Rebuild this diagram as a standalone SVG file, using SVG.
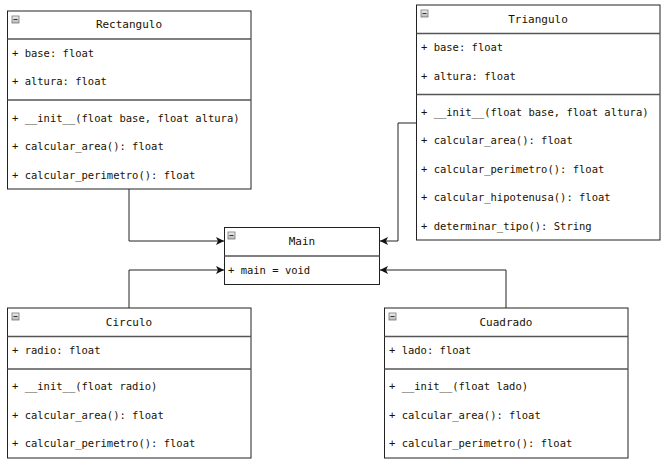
<svg xmlns="http://www.w3.org/2000/svg" width="671" height="460" viewBox="0 0 671 460">
  <style>
    .box { fill: #ffffff; stroke: #222222; stroke-width: 1; }
    .div { stroke: #555555; stroke-width: 1.5; }
    .t { font-family: "DejaVu Sans Mono", "Liberation Mono", monospace; font-size: 10.5px; fill: #1a1100; dominant-baseline: central; }
    .title { text-anchor: middle; font-size: 11px; }
    .icon { fill: url(#ig); stroke: #777777; stroke-width: 0.8; }
    .iconbar { stroke: #333333; stroke-width: 1; }
    .edge { fill: none; stroke: #222222; stroke-width: 1; }
  </style>
  <defs>
    <linearGradient id="ig" x1="0" y1="0" x2="0" y2="1">
      <stop offset="0" stop-color="#f2f2f2"/>
      <stop offset="1" stop-color="#b8b8b8"/>
    </linearGradient>
    <marker id="arr" viewBox="0 0 10 10" refX="10" refY="5" markerWidth="8" markerHeight="8" markerUnits="userSpaceOnUse" orient="auto">
      <path d="M0,0 L10,5 L0,10 L2.5,5 Z" fill="#111111"/>
    </marker>
    <g id="collapse">
      <rect class="icon" x="0" y="0" width="7" height="7"/>
      <line class="iconbar" x1="1.5" y1="3.5" x2="5.5" y2="3.5"/>
    </g>
  </defs>

  <g id="connectors">
    <polyline class="edge" points="129,189 129,241 224,241" marker-end="url(#arr)"/>
    <polyline class="edge" points="129,308 129,270 224,270" marker-end="url(#arr)"/>
    <polyline class="edge" points="416,123 398,123 398,241 380,241" marker-end="url(#arr)"/>
    <polyline class="edge" points="506,308 506,270 380,270" marker-end="url(#arr)"/>
  </g>

  <g id="rectangulo">
    <rect class="box" x="7.5" y="11" width="243.5" height="178"/>
    <line class="div" x1="7.5" y1="39" x2="251" y2="39"/>
    <line class="div" x1="7.5" y1="100" x2="251" y2="100"/>
    <use href="#collapse" x="12" y="16"/>
    <text class="t title" x="129" y="24">Rectangulo</text>
    <text class="t" x="12" y="53">+ base: float</text>
    <text class="t" x="12" y="81">+ altura: float</text>
    <text class="t" x="12" y="118">+ __init__(float base, float altura)</text>
    <text class="t" x="12" y="146">+ calcular_area(): float</text>
    <text class="t" x="12" y="175">+ calcular_perimetro(): float</text>
  </g>

  <g id="triangulo">
    <rect class="box" x="416.5" y="5" width="243.5" height="235"/>
    <line class="div" x1="416.5" y1="33.5" x2="660" y2="33.5"/>
    <line class="div" x1="416.5" y1="94.5" x2="660" y2="94.5"/>
    <use href="#collapse" x="421" y="10"/>
    <text class="t title" x="538" y="19">Triangulo</text>
    <text class="t" x="421" y="47">+ base: float</text>
    <text class="t" x="421" y="76">+ altura: float</text>
    <text class="t" x="421" y="112">+ __init__(float base, float altura)</text>
    <text class="t" x="421" y="140">+ calcular_area(): float</text>
    <text class="t" x="421" y="169">+ calcular_perimetro(): float</text>
    <text class="t" x="421" y="197">+ calcular_hipotenusa(): float</text>
    <text class="t" x="421" y="226">+ determinar_tipo(): String</text>
  </g>

  <g id="main">
    <rect class="box" x="224.5" y="227.5" width="155" height="57"/>
    <line class="div" x1="224.5" y1="256" x2="379.5" y2="256"/>
    <use href="#collapse" x="228" y="232"/>
    <text class="t title" x="302" y="241">Main</text>
    <text class="t" x="228" y="270">+ main = void</text>
  </g>

  <g id="circulo">
    <rect class="box" x="7.5" y="308" width="243.5" height="150"/>
    <line class="div" x1="7.5" y1="336.5" x2="251" y2="336.5"/>
    <line class="div" x1="7.5" y1="369" x2="251" y2="369"/>
    <use href="#collapse" x="12" y="313"/>
    <text class="t title" x="129" y="322">Circulo</text>
    <text class="t" x="12" y="350">+ radio: float</text>
    <text class="t" x="12" y="386">+ __init__(float radio)</text>
    <text class="t" x="12" y="415">+ calcular_area(): float</text>
    <text class="t" x="12" y="443">+ calcular_perimetro(): float</text>
  </g>

  <g id="cuadrado">
    <rect class="box" x="384.5" y="308" width="243.5" height="150"/>
    <line class="div" x1="384.5" y1="336.5" x2="628" y2="336.5"/>
    <line class="div" x1="384.5" y1="369" x2="628" y2="369"/>
    <use href="#collapse" x="389" y="313"/>
    <text class="t title" x="506" y="322">Cuadrado</text>
    <text class="t" x="389" y="350">+ lado: float</text>
    <text class="t" x="389" y="386">+ __init__(float lado)</text>
    <text class="t" x="389" y="415">+ calcular_area(): float</text>
    <text class="t" x="389" y="443">+ calcular_perimetro(): float</text>
  </g>
</svg>
